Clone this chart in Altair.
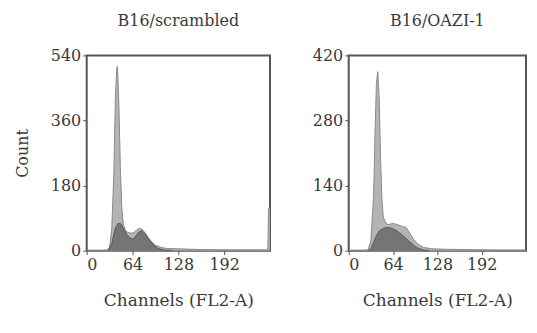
import altair as alt
import pandas as pd

# Left panel (B16/scrambled)
left_light_ch = [0, 20, 28, 32, 35, 38, 40, 42, 43, 45, 47, 49, 51, 54, 58, 62, 66, 70, 74, 78, 82, 86, 90, 96, 104, 112, 128, 160, 200, 240, 253, 254, 256]
left_light_ct = [0, 0, 2, 10, 60, 220, 420, 505, 510, 400, 230, 120, 75, 55, 50, 48, 50, 58, 62, 58, 48, 36, 26, 15, 9, 6, 5, 3, 2, 2, 2, 118, 118]
left_dark_ch = [30, 35, 40, 44, 48, 52, 56, 60, 64, 68, 72, 77, 82, 88, 94, 100, 108, 120]
left_dark_ct = [0, 20, 62, 76, 74, 60, 45, 36, 32, 38, 50, 56, 46, 28, 14, 6, 2, 0]

# Right panel (B16/OAZI-1)
right_light_ch = [0, 20, 28, 32, 36, 38, 40, 42, 44, 46, 48, 50, 54, 58, 62, 66, 70, 74, 78, 83, 88, 94, 100, 108, 120, 140, 180, 220, 256]
right_light_ct = [0, 0, 2, 20, 120, 250, 360, 385, 330, 200, 110, 72, 58, 56, 58, 58, 56, 54, 52, 50, 38, 24, 14, 7, 4, 3, 2, 1, 1]
right_dark_ch = [28, 32, 36, 40, 44, 50, 56, 62, 68, 74, 80, 86, 92, 98, 106, 116]
right_dark_ct = [0, 4, 18, 32, 42, 48, 50, 48, 44, 38, 30, 22, 14, 7, 2, 0]

titles = ["B16/scrambled", "B16/OAZI-1"]
y_max = [540, 420]
y_ticks = [[0, 180, 360, 540], [0, 140, 280, 420]]
x_ticks = [0, 64, 128, 192]

FONT = "DejaVu Serif"
TXT = "#3a3a3a"


def frame(ch, ct):
    return pd.DataFrame({"channel": ch, "count": ct})


def panel(light, dark, title, ymax, yticks, ytitle, width):
    x = alt.X("channel:Q", scale=alt.Scale(domain=[0, 256], nice=False),
              axis=alt.Axis(values=x_ticks, title="Channels (FL2-A)", titlePadding=20,
                            titleFontSize=17))
    y = alt.Y("count:Q", scale=alt.Scale(domain=[0, ymax], nice=False),
              axis=alt.Axis(values=yticks, title=ytitle, titlePadding=20))
    a = alt.Chart(light).mark_area(color="#b0b0b0", opacity=0.95,
                                   line={"color": "#8a8a8a", "strokeWidth": 1}).encode(x=x, y=y)
    b = alt.Chart(dark).mark_area(color="#6a6a6a", opacity=0.85,
                                  line={"color": "#5a5a5a", "strokeWidth": 1}).encode(x=x, y=y)
    return alt.layer(a, b).properties(
        width=width, height=196,
        title=alt.TitleParams(title, font=FONT, fontSize=16, fontWeight="normal",
                              color=TXT, offset=19))


left = panel(frame(left_light_ch, left_light_ct), frame(left_dark_ch, left_dark_ct),
             titles[0], y_max[0], y_ticks[0], "Count", 184)
right = panel(frame(right_light_ch, right_light_ct), frame(right_dark_ch, right_dark_ct),
              titles[1], y_max[1], y_ticks[1], None, 178)

chart = alt.hconcat(left, right, spacing=38).properties(
    padding={"left": 5, "top": 3, "right": 0, "bottom": 0}
).configure_view(stroke="#555555", strokeWidth=2).configure_axis(
    grid=False, domain=False, tickSize=4, tickColor="#555555",
    labelFont=FONT, labelFontSize=16, labelColor=TXT,
    titleFont=FONT, titleFontSize=16, titleFontWeight="normal", titleColor=TXT
)

chart.save("out.html", embed_options={"renderer": "svg", "actions": False})
